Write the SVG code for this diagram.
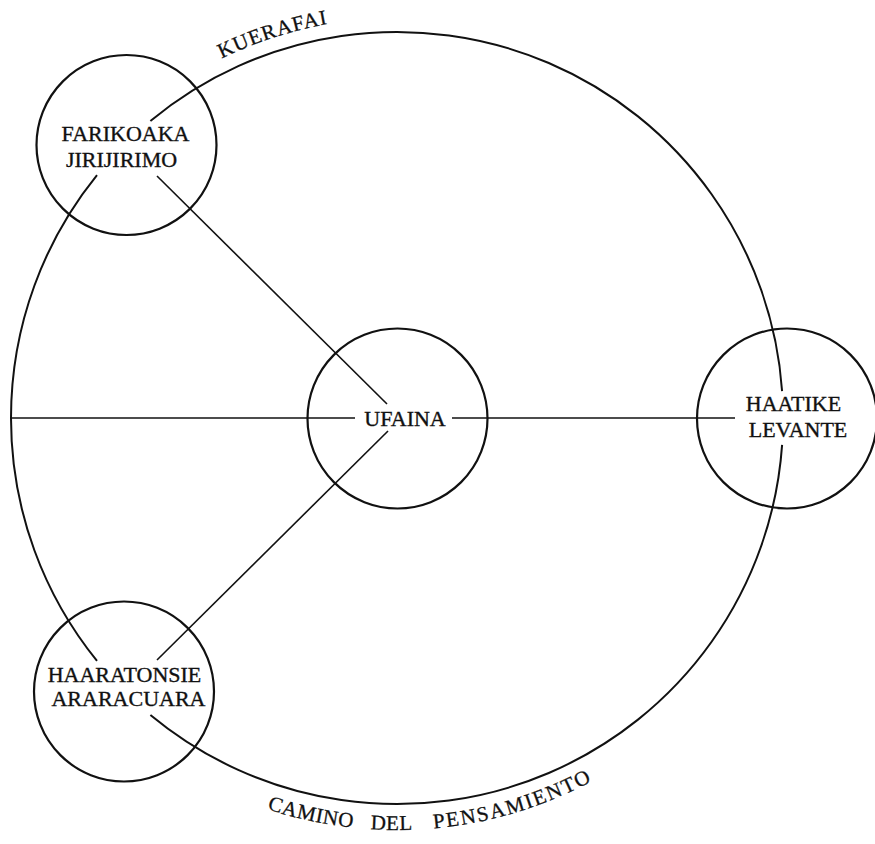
<svg xmlns="http://www.w3.org/2000/svg" width="875" height="844" viewBox="0 0 875 844">
<style>
.node{fill:none;stroke:#111;stroke-width:2.2}
.edge{fill:none;stroke:#111;stroke-width:1.6}
.ring{fill:none;stroke:#111;stroke-width:2}
.lbl{font-family:"Liberation Serif","Times New Roman",serif;font-size:22px;fill:#111;stroke:#111;stroke-width:0.35;text-anchor:middle}
.arc{font-family:"Liberation Serif","Times New Roman",serif;fill:#111;stroke:#111;stroke-width:0.3}
</style>
<defs>
<path id="topPath" d="M221.6,58.5 A400,400 0 0,1 597,71.6"/>
<path id="botPath" d="M267,809 A412,412 0 0,0 633.3,755.5"/>
</defs>
<rect width="875" height="844" fill="#fff"/>
<g id="connectors">
<path class="ring" d="M150.4,121 A386,386 0 0,1 782.1,391.1"/>
<path class="ring" d="M782.1,444.9 A386,386 0 0,1 150.4,715"/>
<path class="ring" d="M97,175.1 A386,386 0 0,0 97,660.9"/>
<line class="edge" x1="11" y1="418" x2="355" y2="418"/>
<line class="edge" x1="452" y1="418" x2="735" y2="418"/>
<line class="edge" x1="157" y1="176" x2="387" y2="404"/>
<line class="edge" x1="388" y1="431" x2="157" y2="660"/>
</g>
<g id="farikoaka">
<circle class="node" cx="126.5" cy="145" r="90"/>
<text class="lbl" x="125.5" y="141">FARIKOAKA</text>
<text class="lbl" x="121.5" y="167">JIRIJIRIMO</text>
</g>
<g id="ufaina">
<circle class="node" cx="397.5" cy="418.5" r="90"/>
<text class="lbl" x="405" y="426">UFAINA</text>
</g>
<g id="haatike">
<circle class="node" cx="787" cy="418.5" r="90"/>
<text class="lbl" x="793.5" y="411">HAATIKE</text>
<text class="lbl" x="798" y="437">LEVANTE</text>
</g>
<g id="haaratonsie">
<circle class="node" cx="124" cy="691.5" r="90"/>
<text class="lbl" x="124.5" y="682">HAARATONSIE</text>
<text class="lbl" x="128.5" y="706">ARARACUARA</text>
</g>
<g id="labels">
<text class="arc" font-size="21" letter-spacing="1"><textPath href="#topPath">KUERAFAI</textPath></text>
<text class="arc" font-size="21" letter-spacing="0.5"><textPath href="#botPath" startOffset="0">CAMINO</textPath></text>
<text class="arc" font-size="21" letter-spacing="0.5"><textPath href="#botPath" startOffset="105.7">DEL</textPath></text>
<text class="arc" font-size="21" letter-spacing="1.8"><textPath href="#botPath" startOffset="169">PENSAMIENTO</textPath></text>
</g>
</svg>
